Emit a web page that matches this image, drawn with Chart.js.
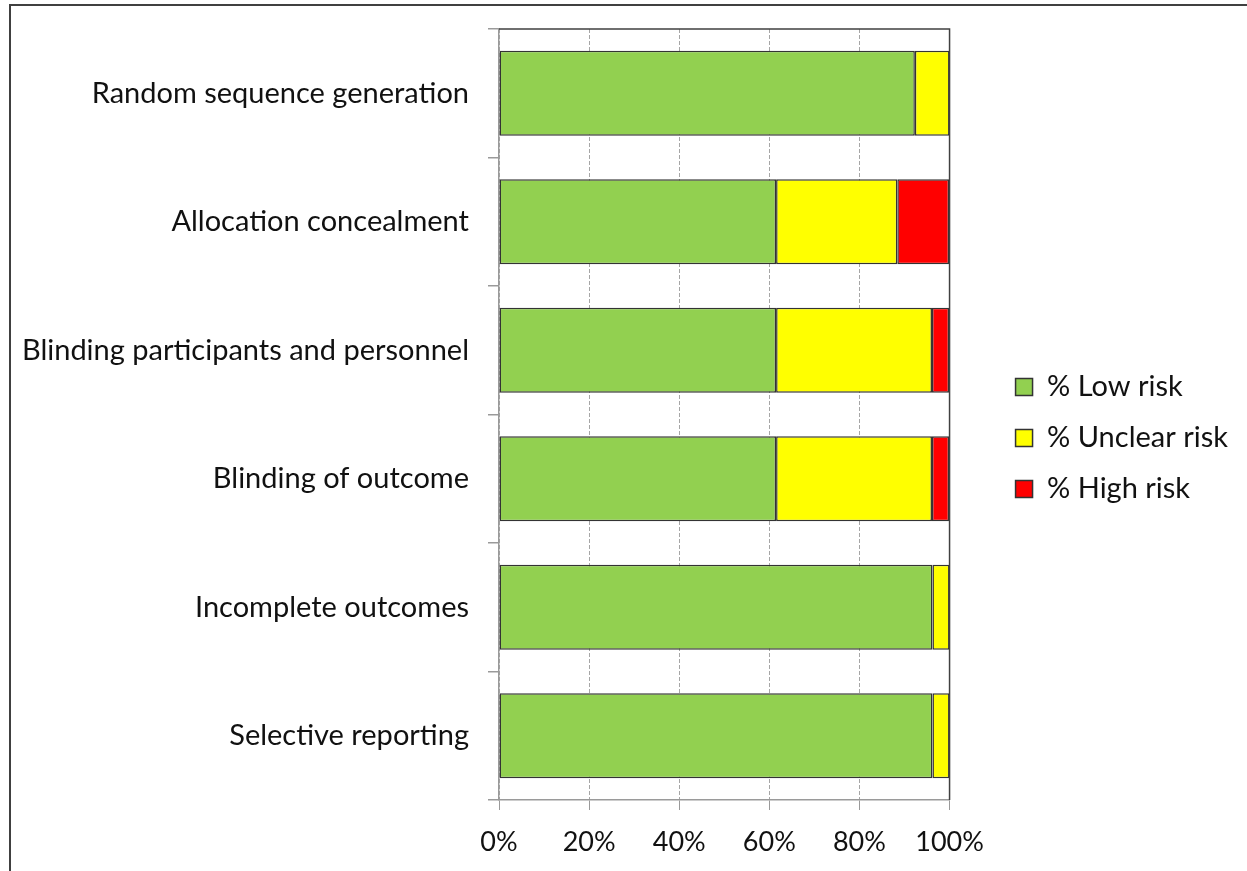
<!DOCTYPE html>
<html>
<head>
<meta charset="utf-8">
<script src="https://cdn.jsdelivr.net/npm/chart.js@4"></script>
<style>
    body { margin: 0; background: #fff; }
    #wrap { position: relative; width: 1247px; height: 871px; overflow: hidden; }
    #frame { position: absolute; left: 9px; top: 4px; width: 1300px; height: 900px; border-left: 2px solid #404040; border-top: 2px solid #404040; }
    canvas { position: absolute; left: 0; top: 0; }
</style>
</head>
<body>
<div id="wrap">
    <div id="frame"></div>
    <canvas id="myChart" width="1247" height="871"></canvas>
</div>
<script>
// Risk of bias domains (26 studies)
const domains = [
    "Random sequence generation",
    "Allocation concealment",
    "Blinding participants and personnel",
    "Blinding of outcome",
    "Incomplete outcomes",
    "Selective reporting"
]
const lowRisk = [92.3, 61.5, 61.5, 61.5, 96.2, 96.2]
const unclearRisk = [7.7, 26.9, 34.6, 34.6, 3.8, 3.8]
const highRisk = [0, 11.5, 3.8, 3.8, 0, 0]
const xTicks = [0, 20, 40, 60, 80, 100]

const fontName = "Lato"
const lineCol = "#333333"
const axisCol = "#9a9a9a"

// top + right edge of the plot area
const plotFrame = {
    id: 'plotFrame',
    afterLayout(chart) {
        // legend sits a bit above the canvas middle
        chart.legend.top -= 12
        chart.legend.bottom -= 12
    },
    afterDatasetsDraw(chart) {
        const { ctx, chartArea } = chart
        ctx.save()
        ctx.strokeStyle = "#404040"
        ctx.lineWidth = 1.5
        ctx.beginPath()
        ctx.moveTo(chartArea.left, chartArea.top)
        ctx.lineTo(chartArea.right, chartArea.top)
        ctx.lineTo(chartArea.right, chartArea.bottom)
        ctx.stroke()
        ctx.restore()
    }
}

function makeSet(label, data, color) {
    return {
        label: label,
        data: data,
        backgroundColor: color,
        borderColor: lineCol,
        borderWidth: 1.5,
        borderSkipped: false,
        barPercentage: 0.66,
        categoryPercentage: 1.0
    }
}

const ctx = document.getElementById('myChart')

new Chart(ctx, {
    type: 'bar',
    data: {
        labels: domains,
        datasets: [
            makeSet("% Low risk", lowRisk, "#92D050"),
            makeSet("% Unclear risk", unclearRisk, "#FFFF00"),
            makeSet("% High risk", highRisk, "#FF0000")
        ]
    },
    options: {
        indexAxis: 'y',
        responsive: false,
        animation: false,
        layout: { padding: { top: 29, left: 0, right: 9, bottom: 0 } },
        scales: {
            x: {
                stacked: true,
                min: 0,
                max: 100,
                afterBuildTicks: s => { s.ticks = xTicks.map(v => ({ value: v })) },
                afterFit: s => { s.height = 71 },
                ticks: {
                    callback: v => v + '%',
                    color: '#111',
                    font: { family: fontName, size: 27 },
                    padding: 16,
                    maxRotation: 0
                },
                grid: {
                    color: '#a6a6a6',
                    lineWidth: 1,
                    tickLength: 10,
                    tickColor: axisCol
                },
                border: { color: axisCol, width: 1.5, dash: [4, 2] }
            },
            y: {
                stacked: true,
                afterFit: s => {
                    s.width = 499
                    s.paddingTop = 0
                    s.paddingBottom = 0
                },
                ticks: {
                    color: '#111',
                    font: { family: fontName, size: 29 },
                    padding: 19
                },
                grid: {
                    drawOnChartArea: false,
                    tickLength: 11,
                    color: axisCol,
                    lineWidth: 1.5
                },
                border: { color: axisCol, width: 1.5 }
            },
            gap: {
                type: 'linear',
                position: 'right',
                display: true,
                ticks: { display: false },
                grid: { display: false },
                border: { display: false },
                afterFit: s => { s.width = 44 }
            }
        },
        plugins: {
            legend: {
                position: 'right',
                maxWidth: 320,
                labels: {
                    boxWidth: 17,
                    boxHeight: 17,
                    padding: 22,
                    color: '#111',
                    font: { family: fontName, size: 29 }
                }
            },
            tooltip: { enabled: false }
        }
    },
    plugins: [plotFrame]
})
</script>
</body>
</html>
